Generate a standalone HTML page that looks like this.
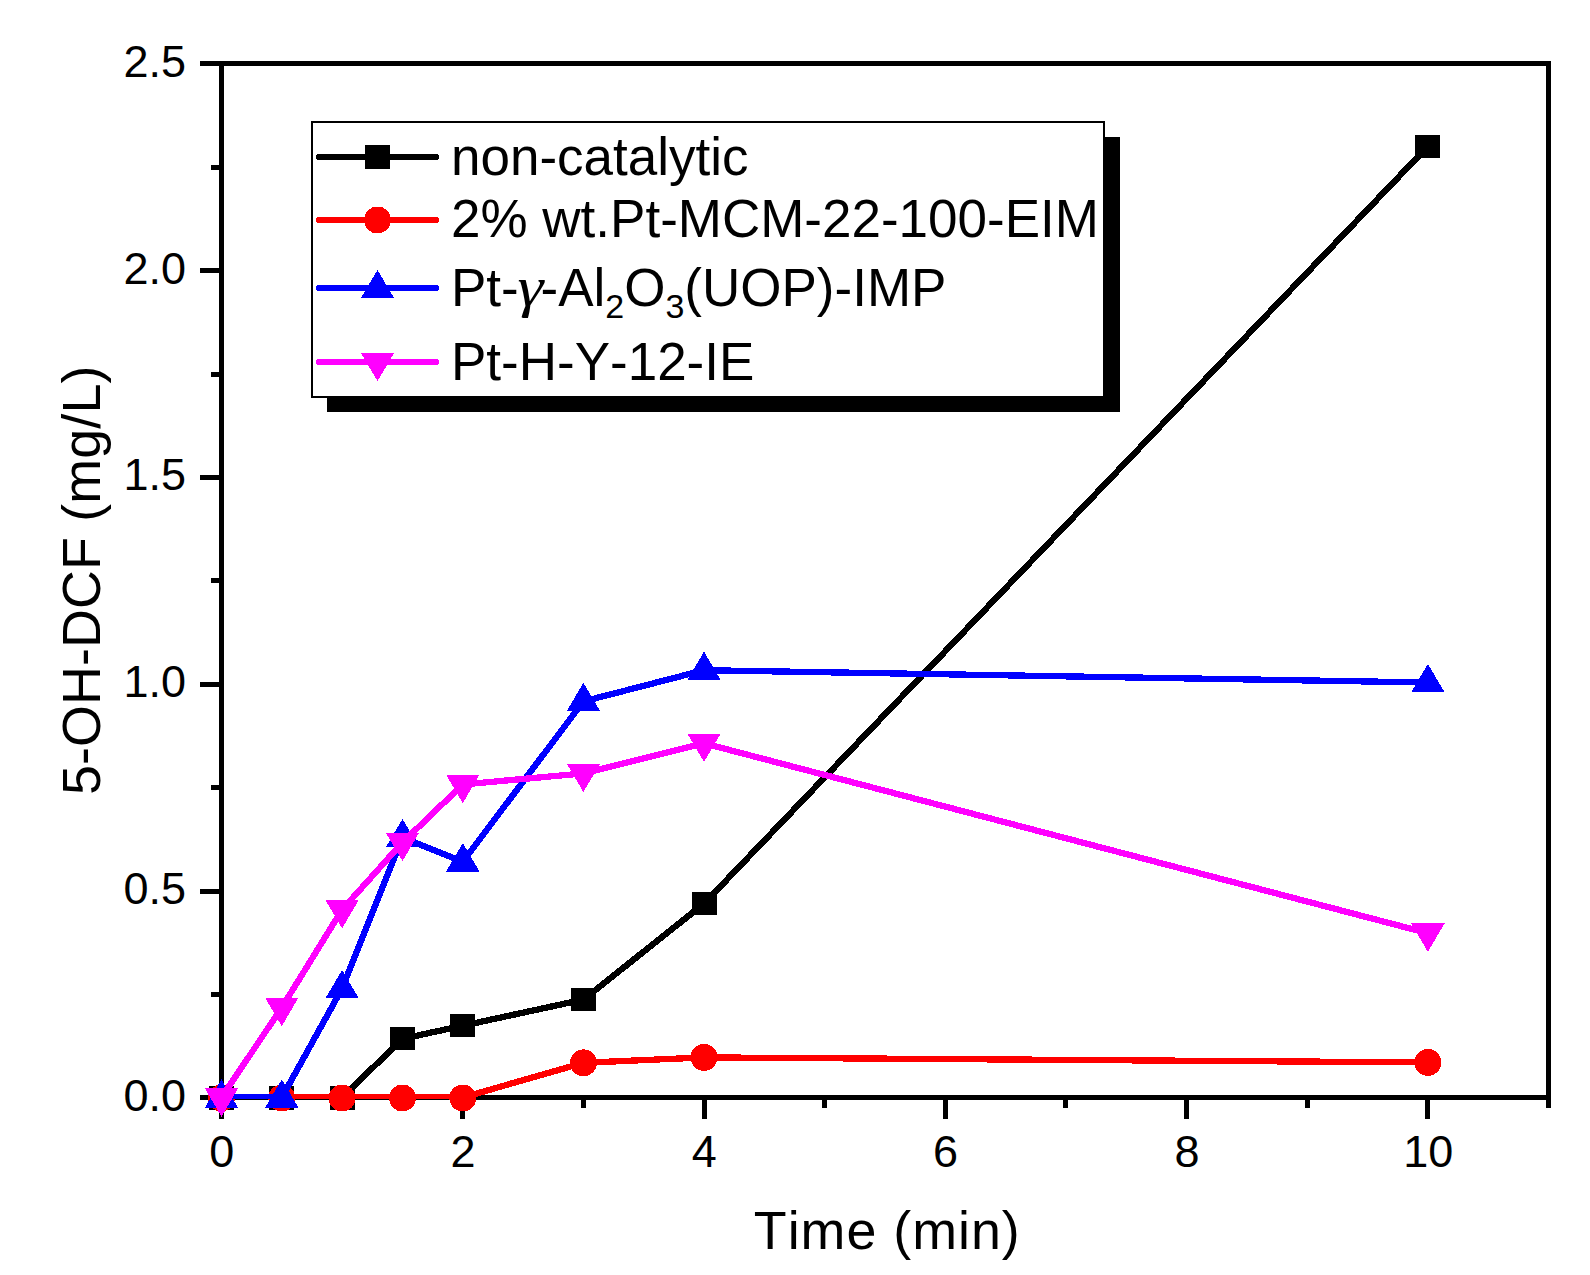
<!DOCTYPE html>
<html lang="en"><head><meta charset="utf-8"><title>5-OH-DCF vs Time</title>
<style>
html,body{margin:0;padding:0;background:#fff;}
body{width:1590px;height:1275px;overflow:hidden;}
svg{display:block;}
text{font-family:"Liberation Sans",sans-serif;fill:#000;font-kerning:none;font-variant-ligatures:none;}
.tk{font-size:45px;}
.ti{font-size:53.8px;}
.lg{font-size:53px;}
</style></head><body>
<svg width="1590" height="1275" viewBox="0 0 1590 1275" shape-rendering="crispEdges">
<rect x="0" y="0" width="1590" height="1275" fill="#ffffff"/>

<defs><clipPath id="pc"><rect x="219" y="61" width="1332" height="1038"/></clipPath></defs>
<g shape-rendering="crispEdges" fill="#000">
<rect x="219" y="61" width="1332" height="5"/>
<rect x="219" y="1095" width="1332" height="5"/>
<rect x="219" y="61" width="5" height="1039"/>
<rect x="1546" y="61" width="5" height="1039"/>
<rect x="200" y="1095" width="19" height="5"/>
<rect x="211" y="992" width="8" height="5"/>
<rect x="200" y="889" width="19" height="5"/>
<rect x="211" y="785" width="8" height="5"/>
<rect x="200" y="682" width="19" height="5"/>
<rect x="211" y="578" width="8" height="5"/>
<rect x="200" y="475" width="19" height="5"/>
<rect x="211" y="372" width="8" height="5"/>
<rect x="200" y="268" width="19" height="5"/>
<rect x="211" y="165" width="8" height="5"/>
<rect x="200" y="61" width="19" height="5"/>
<rect x="219" y="1100" width="5" height="19"/>
<rect x="340" y="1100" width="5" height="8"/>
<rect x="460" y="1100" width="5" height="19"/>
<rect x="581" y="1100" width="5" height="8"/>
<rect x="702" y="1100" width="5" height="19"/>
<rect x="822" y="1100" width="5" height="8"/>
<rect x="943" y="1100" width="5" height="19"/>
<rect x="1063" y="1100" width="5" height="8"/>
<rect x="1184" y="1100" width="5" height="19"/>
<rect x="1305" y="1100" width="5" height="8"/>
<rect x="1425" y="1100" width="5" height="19"/>
<rect x="1546" y="1100" width="5" height="8"/>
</g>
<text class="tk" x="186" y="1110.7" text-anchor="end">0.0</text>
<text class="tk" x="186" y="903.9" text-anchor="end">0.5</text>
<text class="tk" x="186" y="697.1" text-anchor="end">1.0</text>
<text class="tk" x="186" y="490.3" text-anchor="end">1.5</text>
<text class="tk" x="186" y="283.5" text-anchor="end">2.0</text>
<text class="tk" x="186" y="76.7" text-anchor="end">2.5</text>
<text class="tk" x="221.8" y="1166.5" text-anchor="middle">0</text>
<text class="tk" x="463.1" y="1166.5" text-anchor="middle">2</text>
<text class="tk" x="704.3" y="1166.5" text-anchor="middle">4</text>
<text class="tk" x="945.6" y="1166.5" text-anchor="middle">6</text>
<text class="tk" x="1186.9" y="1166.5" text-anchor="middle">8</text>
<text class="tk" x="1428.2" y="1166.5" text-anchor="middle">10</text>
<text class="ti" x="887.3" y="1249" text-anchor="middle" letter-spacing="1">Time (min)</text>
<text class="ti" transform="translate(100,580.3) rotate(-90)" text-anchor="middle" letter-spacing="0.15">5-OH-DCF (mg/L)</text>
<polyline points="221.5,1097.5 281.8,1097.5 342.1,1097.5 402.5,1038.8 462.8,1025.7 583.4,999.6 704.0,903.6 1427.9,146.3" fill="none" stroke="#000000" stroke-width="6.3" stroke-linejoin="round" clip-path="url(#pc)"/>
<rect x="209.0" y="1086.4" width="25" height="23.2" fill="#000000"/>
<rect x="269.3" y="1086.4" width="25" height="23.2" fill="#000000"/>
<rect x="329.6" y="1086.4" width="25" height="23.2" fill="#000000"/>
<rect x="390.0" y="1027.2" width="25" height="23.2" fill="#000000"/>
<rect x="450.3" y="1014.1" width="25" height="23.2" fill="#000000"/>
<rect x="570.9" y="988.0" width="25" height="23.2" fill="#000000"/>
<rect x="691.5" y="892.0" width="25" height="23.2" fill="#000000"/>
<rect x="1415.4" y="134.7" width="25" height="23.2" fill="#000000"/>
<polyline points="221.5,1097.5 281.8,1097.5 342.1,1097.5 402.5,1097.5 462.8,1097.5 583.4,1062.8 704.0,1057.4 1427.9,1062.4" fill="none" stroke="#ff0000" stroke-width="6.3" stroke-linejoin="round" clip-path="url(#pc)"/>
<circle cx="221.5" cy="1098.0" r="13.45" fill="#ff0000"/>
<circle cx="281.8" cy="1098.0" r="13.45" fill="#ff0000"/>
<circle cx="342.1" cy="1098.0" r="13.45" fill="#ff0000"/>
<circle cx="402.5" cy="1098.0" r="13.45" fill="#ff0000"/>
<circle cx="462.8" cy="1098.0" r="13.45" fill="#ff0000"/>
<circle cx="583.4" cy="1062.8" r="13.45" fill="#ff0000"/>
<circle cx="704.0" cy="1057.4" r="13.45" fill="#ff0000"/>
<circle cx="1427.9" cy="1062.4" r="13.45" fill="#ff0000"/>
<polyline points="221.5,1097.5 281.8,1097.5 342.1,988.5 402.5,837.5 462.8,861.7 583.4,701.4 704.0,670.2 1427.9,682.5" fill="none" stroke="#0000ff" stroke-width="6.3" stroke-linejoin="round" clip-path="url(#pc)"/>
<polygon points="221.5,1079.4 238.2,1107.8 204.8,1107.8" fill="#0000ff"/>
<polygon points="281.8,1079.4 298.5,1107.8 265.1,1107.8" fill="#0000ff"/>
<polygon points="342.1,969.9 358.8,998.3 325.4,998.3" fill="#0000ff"/>
<polygon points="402.5,818.9 419.2,847.3 385.8,847.3" fill="#0000ff"/>
<polygon points="462.8,843.1 479.5,871.5 446.1,871.5" fill="#0000ff"/>
<polygon points="583.4,682.8 600.1,711.2 566.7,711.2" fill="#0000ff"/>
<polygon points="704.0,651.6 720.7,680.0 687.3,680.0" fill="#0000ff"/>
<polygon points="1427.9,663.9 1444.6,692.3 1411.2,692.3" fill="#0000ff"/>
<polyline points="221.5,1097.5 281.8,1007.5 342.1,909.7 402.5,842.4 462.8,784.5 583.4,773.4 704.0,743.3 1427.9,933.2" fill="none" stroke="#ff00ff" stroke-width="6.3" stroke-linejoin="round" clip-path="url(#pc)"/>
<polygon points="221.5,1116.7 238.2,1088.2 204.8,1088.2" fill="#ff00ff"/>
<polygon points="281.8,1026.2 298.5,997.7 265.1,997.7" fill="#ff00ff"/>
<polygon points="342.1,928.4 358.8,899.9 325.4,899.9" fill="#ff00ff"/>
<polygon points="402.5,861.1 419.2,832.6 385.8,832.6" fill="#ff00ff"/>
<polygon points="462.8,803.2 479.5,774.7 446.1,774.7" fill="#ff00ff"/>
<polygon points="583.4,792.1 600.1,763.6 566.7,763.6" fill="#ff00ff"/>
<polygon points="704.0,762.0 720.7,733.5 687.3,733.5" fill="#ff00ff"/>
<polygon points="1427.9,951.9 1444.6,923.4 1411.2,923.4" fill="#ff00ff"/>
<g shape-rendering="crispEdges">
<rect x="327" y="137" width="793" height="275" fill="#000"/>
<rect x="312" y="122" width="792" height="275" fill="#fff" stroke="#000" stroke-width="2"/>
</g>
<line x1="319" y1="157" x2="436" y2="157" stroke="#000000" stroke-width="6.4" stroke-linecap="round"/>
<rect x="365.0" y="145.4" width="25" height="23.2" fill="#000000"/>
<line x1="319" y1="220" x2="436" y2="220" stroke="#ff0000" stroke-width="6.4" stroke-linecap="round"/>
<circle cx="377.5" cy="220.0" r="13.45" fill="#ff0000"/>
<line x1="319" y1="288" x2="436" y2="288" stroke="#0000ff" stroke-width="6.4" stroke-linecap="round"/>
<polygon points="377.5,269.9 394.2,298.3 360.8,298.3" fill="#0000ff"/>
<line x1="319" y1="362" x2="436" y2="362" stroke="#ff00ff" stroke-width="6.4" stroke-linecap="round"/>
<polygon points="377.5,381.2 394.2,352.7 360.8,352.7" fill="#ff00ff"/>
<text class="lg" x="451" y="175">non-catalytic</text>
<text class="lg" x="451" y="237">2% wt.Pt-MCM-22-100-EIM</text>
<text class="lg" x="451" y="306">Pt-</text>
<text transform="translate(517.5,306) scale(1.24,1.063)" font-size="53" style="font-family:'Liberation Serif',serif;font-style:italic">γ</text>
<text class="lg" x="540.5" y="306">-Al<tspan font-size="34" dy="12">2</tspan><tspan dy="-12">O</tspan><tspan font-size="34" dy="12">3</tspan><tspan dy="-12">(UOP)-IMP</tspan></text>
<text class="lg" x="451" y="380">Pt-H-Y-12-IE</text>
</svg></body></html>
